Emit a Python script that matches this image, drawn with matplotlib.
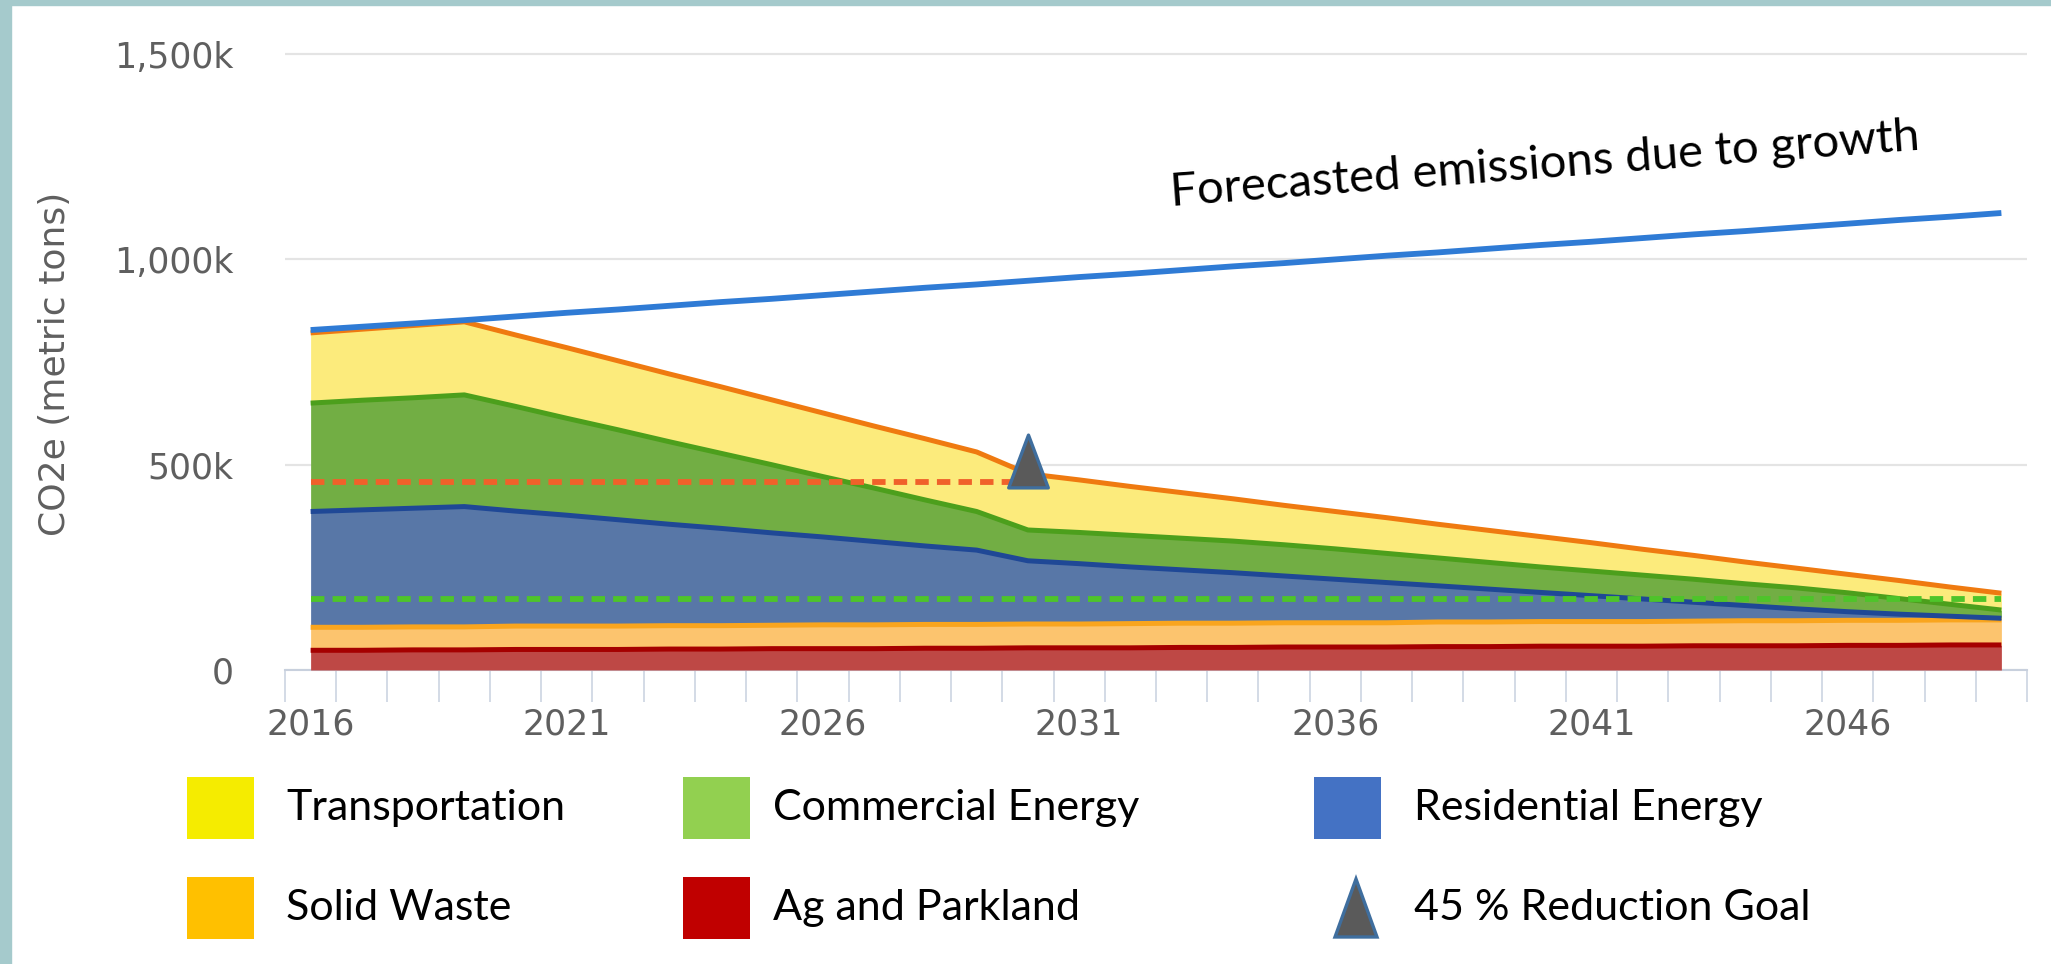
import matplotlib
matplotlib.use("Agg")
import matplotlib.pyplot as plt
from matplotlib.patches import Rectangle, Polygon
from matplotlib.path import Path
import numpy as np

W, H = 2051, 964

# ---------------- data (thousand metric tons CO2e) ----------------
years = list(range(2016, 2050))
ag_parkland = [48, 48, 49, 49, 50, 50, 50, 51, 51, 52, 52, 52, 53, 53, 54, 54, 54,
               55, 55, 56, 56, 56, 57, 57, 58, 58, 58, 59, 59, 59, 60, 60, 61, 61]
solid_waste = [56, 56, 56, 56, 57, 57, 57, 57, 57, 57, 58, 58, 58, 58, 58, 58, 59,
               59, 59, 59, 59, 59, 60, 60, 60, 60, 60, 60, 61, 61, 61, 61, 61, 61]
residential = [282, 286, 289, 293, 280, 270, 259, 247, 237, 225, 214, 203, 191, 181,
               154, 147, 138, 130, 123, 114, 106, 98, 88, 80, 71, 63, 55, 46, 37, 29,
               21, 15, 9, 4]
commercial = [264, 267, 269, 272, 255, 236, 219, 201, 183, 166, 147, 130, 112, 94,
              75, 76, 77, 77, 77, 76, 74, 71, 68, 65, 62, 60, 58, 56, 53, 51, 46, 38,
              29, 20]
transportation = [171, 173, 176, 178, 174, 172, 168, 165, 162, 158, 155, 151, 149,
                  145, 137, 128, 119, 111, 103, 96, 91, 87, 82, 78, 74, 69, 63, 58,
                  53, 48, 45, 44, 42, 41]
forecast = [828, 836, 844, 852, 861, 870, 878, 887, 896, 904, 913, 922, 931, 939,
            948, 957, 965, 974, 983, 991, 1000, 1009, 1017, 1026, 1035, 1043, 1052,
            1061, 1069, 1078, 1087, 1096, 1104, 1113]
goal_line_value = 458
goal_line_years = [2016, 2030]
lower_target_value = 173
lower_target_years = [2016, 2049]
goal_marker_year = 2030
goal_marker_value = 508

ytick_values = [0, 500, 1000, 1500]
ytick_labels = ["0", "500k", "1,000k", "1,500k"]
xtick_years = [2016, 2021, 2026, 2031, 2036, 2041, 2046]

legend_labels = ["Transportation", "Commercial Energy", "Residential Energy",
                 "Solid Waste", "Ag and Parkland", "45 % Reduction Goal"]
annotation_text = "Forecasted emissions due to growth"

# ---------------- styling ----------------
fills = ["#BE4845", "#FCC46E", "#5877A7", "#72AE44", "#FCEB7C"]
edges = ["#A50000", "#F9A51E", "#1F4896", "#4C9F1C", "#EF7A10"]
legend_cols = ["#F5EC00", "#92D050", "#4472C4", "#FFC000", "#C00000"]

fig = plt.figure(figsize=(W / 100, H / 100), dpi=100)
fig.patch.set_facecolor("white")

# teal frame strips
fig.add_artist(Rectangle((0, 0), 11 / W, 1, transform=fig.transFigure,
                         color="#A5CACC", zorder=0))
fig.add_artist(Rectangle((0, 1 - 5 / H), 1, 5 / H, transform=fig.transFigure,
                         color="#A5CACC", zorder=0))

ax_left, ax_right = 285, 2027
y0_px = 670
px_per_k = 205.3 / 500
ymax = 1560
ax_h = ymax * px_per_k
ax = fig.add_axes([ax_left / W, (H - y0_px) / H, (ax_right - ax_left) / W, ax_h / H])
ax.set_xlim(2015.5, 2049.5)
ax.set_ylim(0, ymax)
ax.set_facecolor("white")

x = np.array(years)
series = [ag_parkland, solid_waste, residential, commercial, transportation]
base = np.zeros(len(years))
tops = []
for vals, fc in zip(series, fills):
    top = base + np.array(vals)
    ax.fill_between(x, base, top, color=fc, lw=0, zorder=2)
    tops.append(top)
    base = top
for top, ec in zip(tops, edges):
    ax.plot(x, top, color=ec, lw=3.6, zorder=3, solid_capstyle="butt")

ax.plot(x, forecast, color="#2F7BD5", lw=4.2, zorder=4, solid_capstyle="butt")

ax.plot(goal_line_years, [goal_line_value] * 2, color="#F0612A", lw=4.2,
        linestyle=(0, (2.3, 1.4)), zorder=5)
ax.plot(lower_target_years, [lower_target_value] * 2, color="#4EC42A", lw=4.2,
        linestyle=(0, (2.3, 1.4)), zorder=5)

tri = Path([(-0.75, -1), (0.75, -1), (0, 1), (-0.75, -1)],
           [Path.MOVETO, Path.LINETO, Path.LINETO, Path.CLOSEPOLY])
ax.plot([goal_marker_year], [goal_marker_value], marker=tri, ms=38,
        mfc="#5A5A5A", mec="#3F6E9E", mew=2.4, zorder=6, linestyle="none")

# axes styling
for s in ["top", "right", "left"]:
    ax.spines[s].set_visible(False)
ax.spines["bottom"].set_color("#C8D0DD")
ax.spines["bottom"].set_linewidth(1.5)
ax.spines["bottom"].set_zorder(1)

ax.set_yticks(ytick_values)
ax.set_yticklabels(ytick_labels)
ax.yaxis.grid(True, color="#E4E4E4", lw=1.6)
ax.set_axisbelow(True)
ax.tick_params(axis="y", length=0, pad=37, labelsize=25, labelcolor="#5F5F5F")

ax.set_xticks(xtick_years)
ax.set_xticklabels([str(v) for v in xtick_years])
ax.set_xticks(np.arange(2015.5, 2050.0, 1.0), minor=True)
ax.tick_params(axis="x", which="major", length=0, pad=27, labelsize=25,
               labelcolor="#5F5F5F")
ax.tick_params(axis="x", which="minor", length=23, width=1.4, color="#D3DAE6",
               direction="out")

ax.set_ylabel("CO2e (metric tons)", fontsize=26, color="#5F5F5F")
ax.yaxis.set_label_coords((72 - ax_left) / (ax_right - ax_left), (y0_px - 364) / ax_h)

# annotation
ann = fig.text(1545 / W, 1 - 165 / H, annotation_text, family="Lato", fontsize=34,
               rotation=4.3, rotation_mode="anchor", ha="center", va="center",
               color="black")

# legend (manual)
def fx(px):
    return px / W

def fy(py):
    return 1 - py / H

patch_x = [187, 683, 1314]
text_x = [286, 773, 1414]
row_y = [808, 908]
pw, ph = 67, 62
k = 0
for r in range(2):
    for c in range(3):
        lab = legend_labels[k]
        if k < 5:
            fig.add_artist(Rectangle((fx(patch_x[c]), fy(row_y[r] + ph / 2)), pw / W,
                                     ph / H, transform=fig.transFigure,
                                     color=legend_cols[k], lw=0))
        else:
            cx, cy = 1356, row_y[r]
            poly = Polygon([(fx(cx - 21), fy(cy + 29)), (fx(cx + 21), fy(cy + 29)),
                            (fx(cx), fy(cy - 29))], closed=True,
                           transform=fig.transFigure, facecolor="#5A5A5A",
                           edgecolor="#3F6E9E", lw=2.4)
            fig.add_artist(poly)
        fig.text(fx(text_x[c]), fy(row_y[r]), lab, family="Lato", fontsize=31,
                 ha="left", va="center", color="black")
        k += 1

fig.savefig("out.png", dpi=100, facecolor="white")
